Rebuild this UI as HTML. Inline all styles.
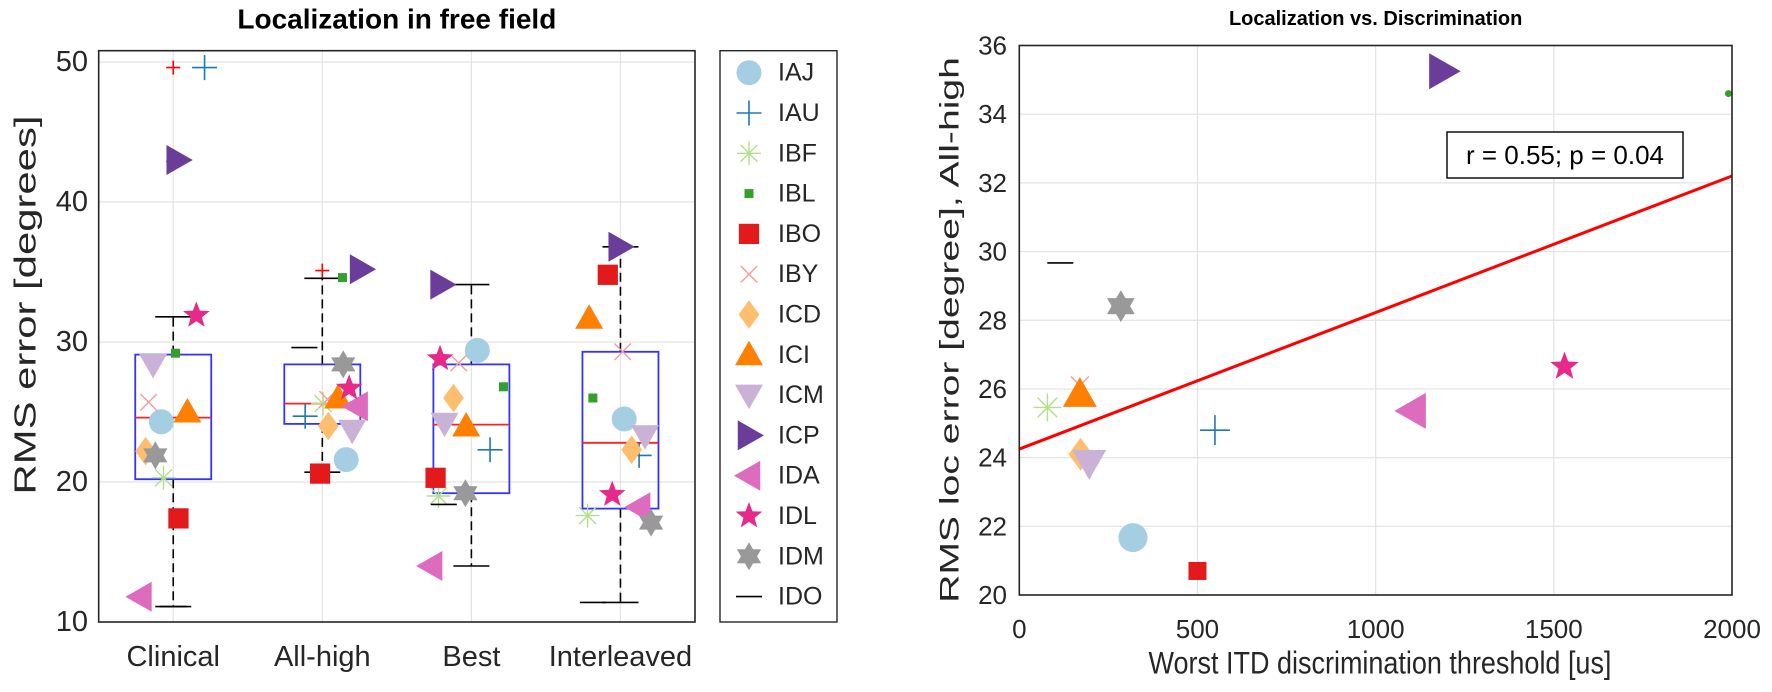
<!DOCTYPE html>
<html><head><meta charset="utf-8">
<style>
html,body{margin:0;padding:0;background:#fff;}
svg{display:block;font-family:"Liberation Sans",Arial,sans-serif;}
</style></head>
<body>
<svg id="fig" width="1772" height="692" viewBox="0 0 1772 692" xmlns="http://www.w3.org/2000/svg">
<rect width="1772" height="692" fill="#fff"/>
<g id="left"></g>
<g id="legend"></g>
<g id="right"></g>
</svg>
<script>
// ---------- data ----------
const subjects = ["IAJ","IAU","IBF","IBL","IBO","IBY","ICD","ICI","ICM","ICP","IDA","IDL","IDM","IDO"];
const shapes = ["circle","plus","asterisk","smallsquare","square","cross","diamond","triup","tridown","triright","trileft","star","hexagram","dash"];
const colors = ["#a6cee3","#1f78b4","#b2df8a","#33a02c","#e31a1c","#fb9a99","#fdbf6f","#ff7f00","#cab2d6","#6a3d9a","#dd6cbf","#e7298a","#999999","#000000"];
const conditions = ["Clinical","All-high","Best","Interleaved"];
const yTicksLeft = [10,20,30,40,50];
const clinicalVals = [24.3,49.6,20.3,29.2,17.4,25.7,22.2,25.0,28.4,43.0,11.8,31.9,21.9,11.1];
const allHighVals = [21.6,24.7,25.6,34.6,20.6,25.9,24.0,26.0,23.7,35.2,25.4,26.7,28.4,29.6];
const bestVals = [29.4,22.3,19.0,26.8,20.3,28.5,26.0,24.0,24.2,34.1,14.0,28.8,19.2,18.4];
const interleavedVals = [24.5,21.9,17.6,26.0,34.8,29.3,22.3,31.7,23.3,36.8,18.2,19.1,17.1,11.4];
const jitterClin = [-0.16,0.42,-0.13,0.03,0.07,-0.33,-0.37,0.19,-0.27,0.06,-0.44,0.31,-0.24,0];
const jitterAll = [0.32,-0.23,0.01,0.27,-0.03,0.07,0.08,0.21,0.4,0.52,0.46,0.36,0.28,-0.24];
const jitterBest = [0.08,0.25,-0.44,0.43,-0.48,-0.17,-0.24,-0.07,-0.36,-0.4,-0.54,-0.42,-0.08,-0.37];
const jitterInt = [0.05,0.25,-0.44,-0.37,-0.17,0.03,0.15,-0.42,0.33,-0.01,0.25,-0.11,0.41,-0.37];
const q1s = [20.2,24.15,19.2,18.1];
const medians = [24.6,25.6,24.1,22.8];
const q3s = [29.1,28.4,28.4,29.3];
const whiskLo = [11.1,20.7,14.0,11.4];
const whiskHi = [31.8,34.55,34.1,36.8];
const outlierCat = [0,0,1];
const outlierVals = [49.6,42.9,35.1];
const itdThresh = [319,549,79,1990,500,170,172,170,196,1188,1103,1530,285,115];
const locErrAllHigh = [21.67,24.8,25.46,34.6,20.7,26.1,24.1,25.85,23.85,35.25,25.36,26.65,28.41,29.67];
const xTicksRight = [0,500,1000,1500,2000];
const yTicksRight = [20,22,24,26,28,30,32,34,36];
const fitIntercept = 24.25;
const fitSlope = 0.003975;
const statText = "r = 0.55; p = 0.04";

// ---------- helpers ----------
const NS="http://www.w3.org/2000/svg";
function mk(tag,attrs,parent){const e=document.createElementNS(NS,tag);for(const k in attrs)e.setAttribute(k,attrs[k]);parent.appendChild(e);return e;}
function marker(shape,color,cx,cy,s,parent){
  const g=mk("g",{},parent);
  const h=s/2;
  if(shape==="circle") mk("circle",{cx,cy,r:h,fill:color},g);
  else if(shape==="plus"){mk("path",{d:`M${cx-h} ${cy}H${cx+h}M${cx} ${cy-h}V${cy+h}`,stroke:color,"stroke-width":1.6,fill:"none"},g);}
  else if(shape==="asterisk"){let d="";for(let i=0;i<4;i++){const a=i*Math.PI/4;d+=`M${cx-h*Math.cos(a)} ${cy-h*Math.sin(a)}L${cx+h*Math.cos(a)} ${cy+h*Math.sin(a)}`;}mk("path",{d,stroke:color,"stroke-width":1.4,fill:"none"},g);}
  else if(shape==="smallsquare") mk("rect",{x:cx-4.5,y:cy-4.5,width:9,height:9,fill:color},g);
  else if(shape==="square") mk("rect",{x:cx-h*0.75,y:cy-h*0.75,width:h*1.5,height:h*1.5,fill:color},g);
  else if(shape==="cross"){const k=h*0.75;mk("path",{d:`M${cx-k} ${cy-k}L${cx+k} ${cy+k}M${cx-k} ${cy+k}L${cx+k} ${cy-k}`,stroke:color,"stroke-width":1.4,fill:"none"},g);}
  else if(shape==="diamond") mk("path",{d:`M${cx} ${cy-h*1.1}L${cx+h*0.8} ${cy}L${cx} ${cy+h*1.1}L${cx-h*0.8} ${cy}Z`,fill:color},g);
  else if(shape==="triup") mk("path",{d:`M${cx} ${cy-h}L${cx+h} ${cy+h*0.75}L${cx-h} ${cy+h*0.75}Z`,fill:color},g);
  else if(shape==="tridown") mk("path",{d:`M${cx} ${cy+h}L${cx+h} ${cy-h*0.75}L${cx-h} ${cy-h*0.75}Z`,fill:color},g);
  else if(shape==="triright") mk("path",{d:`M${cx+h} ${cy}L${cx-h*0.75} ${cy-h}L${cx-h*0.75} ${cy+h}Z`,fill:color},g);
  else if(shape==="trileft") mk("path",{d:`M${cx-h} ${cy}L${cx+h*0.75} ${cy-h}L${cx+h*0.75} ${cy+h}Z`,fill:color},g);
  else if(shape==="star"||shape==="hexagram"){const n=shape==="star"?5:6;const ri=shape==="star"?h*0.42:h*0.58;let d="";for(let i=0;i<2*n;i++){const a=-Math.PI/2+i*Math.PI/n;const r=i%2?ri:h;d+=(i?"L":"M")+(cx+r*Math.cos(a))+" "+(cy+r*Math.sin(a));}mk("path",{d:d+"Z",fill:color},g);}
  else if(shape==="dash") mk("path",{d:`M${cx-h} ${cy}H${cx+h}`,stroke:color,"stroke-width":1.6},g);
  return g;
}
function txt(parent,x,y,s,size,anchor,extra){const t=mk("text",Object.assign({x,y,"font-size":size,"text-anchor":anchor||"middle","dominant-baseline":"central",fill:"#262626"},extra||{}),parent);t.textContent=s;return t;}

// ---------- left chart ----------
const L=document.getElementById("left");
const lx0=98.7,lx1=695,ly0=622,lyTop=50.7;
const xL=c=>lx0+(c+0.5)*(lx1-lx0)/4;
const yL=v=>622-(v-10)*14;
mk("rect",{x:lx0,y:lyTop,width:lx1-lx0,height:ly0-lyTop,fill:"#fff"},L);
yTicksLeft.forEach(v=>{const l=mk("line",{x1:lx0,x2:lx1,y1:yL(v),y2:yL(v),stroke:"#e3e3e3","stroke-width":1.2},L);

const t=txt(L,88,yL(v),String(v),29,"end");
});
conditions.forEach((c,i)=>{const l=mk("line",{x1:xL(i),x2:xL(i),y1:lyTop,y2:ly0,stroke:"#e3e3e3","stroke-width":1.2},L);

const t=txt(L,xL(i),657,c,29,"middle");
});
conditions.forEach((c,i)=>{const g=mk("g",{},L);


const x=xL(i),bw=38,cw=18;
mk("path",{d:`M${x} ${yL(q3s[i])}V${yL(whiskHi[i])}M${x} ${yL(q1s[i])}V${yL(whiskLo[i])}`,stroke:"#000","stroke-width":1.6,"stroke-dasharray":"9,5",fill:"none"},g);
mk("path",{d:`M${x-cw} ${yL(whiskHi[i])}H${x+cw}M${x-cw} ${yL(whiskLo[i])}H${x+cw}`,stroke:"#000","stroke-width":1.6},g);
mk("rect",{x:x-bw,y:yL(q3s[i]),width:2*bw,height:yL(q1s[i])-yL(q3s[i]),fill:"none",stroke:"#3333ff","stroke-width":1.8},g);
mk("line",{x1:x-bw,x2:x+bw,y1:yL(medians[i]),y2:yL(medians[i]),stroke:"#ff2020","stroke-width":1.8},g);});
outlierVals.forEach((v,k)=>{const m=marker("plus","#ff0000",xL(outlierCat[k]),yL(v),14,L);

});
const condVals=[clinicalVals,allHighVals,bestVals,interleavedVals];
const condJit=[jitterClin,jitterAll,jitterBest,jitterInt];
const lsizes={circle:25,plus:25,asterisk:24,smallsquare:9,square:27,cross:22,diamond:26,triup:28,tridown:28,triright:30,trileft:30,star:28,hexagram:28,dash:26};
condVals.forEach((vals,ci)=>{vals.forEach((v,si)=>{const cx=xL(ci)+condJit[ci][si]*74.6;
const m=marker(shapes[si],colors[si],cx,yL(v),lsizes[shapes[si]],L);

});});
mk("rect",{x:lx0,y:lyTop,width:lx1-lx0,height:ly0-lyTop,fill:"none",stroke:"#262626","stroke-width":1.6},L);
let t=txt(L,(lx0+lx1)/2,19,"Localization in free field",28,"middle",{"font-weight":"bold",fill:"#000"});

t=txt(L,0,0,"RMS error [degrees]",31,"middle",{transform:`translate(25,305) rotate(-90) scale(1.35,1)`});


// ---------- legend ----------
const G=document.getElementById("legend");
mk("rect",{x:720,y:50.7,width:117,height:571.3,fill:"#fff",stroke:"#262626","stroke-width":1.4},G);
subjects.forEach((s,i)=>{const y=72.7+i*40.3;
const e=mk("g",{},G);


marker(shapes[i],colors[i],749,y,lsizes[shapes[i]],e);
txt(e,778,y,s,25,"start");});

// ---------- right chart ----------
const R=document.getElementById("right");
const rx0=1019.3,rx1=1732,ry0=595,ry1=45.5;
const xR=v=>rx0+v*(rx1-rx0)/2000;
const yR=v=>ry0-(v-20)*(ry0-ry1)/16;
xTicksRight.forEach(v=>{const l=mk("line",{x1:xR(v),x2:xR(v),y1:ry1,y2:ry0,stroke:"#e3e3e3","stroke-width":1.2},R);

const t=txt(R,xR(v),629,String(v),26,"middle");
});
yTicksRight.forEach(v=>{const l=mk("line",{x1:rx0,x2:rx1,y1:yR(v),y2:yR(v),stroke:"#e3e3e3","stroke-width":1.2},R);

const t=txt(R,1007,yR(v),String(v),26,"end");
});
const rsizes={circle:29,plus:30,asterisk:28,smallsquare:7,square:24,cross:24,diamond:30,triup:34,tridown:34,triright:36,trileft:36,star:30,hexagram:32,dash:26};
itdThresh.forEach((x,i)=>{const sh=shapes[i]==="smallsquare"?"circle":shapes[i];
const m=marker(sh,colors[i],xR(x),yR(locErrAllHigh[i]),rsizes[shapes[i]],R);

});
const fit=mk("line",{x1:xR(0),y1:yR(fitIntercept),x2:xR(2000),y2:yR(fitIntercept+fitSlope*2000),stroke:"#ff0000","stroke-width":3},R);


mk("rect",{x:rx0,y:ry1,width:rx1-rx0,height:ry0-ry1,fill:"none",stroke:"#262626","stroke-width":1.6},R);
const sb=mk("g",{},R);


mk("rect",{x:1447,y:132,width:236,height:46,fill:"#fff",stroke:"#000","stroke-width":1.4},sb);
txt(sb,1565,155,statText,26,"middle",{fill:"#000"});
t=txt(R,(rx0+rx1)/2,19,"Localization vs. Discrimination",20,"middle",{"font-weight":"bold",fill:"#000"});

t=txt(R,0,0,"Worst ITD discrimination threshold [us]",27,"middle",{transform:`translate(1380,664) scale(1,1.15)`});

t=txt(R,0,0,"RMS loc error [degree], All-high",27,"middle",{transform:`translate(950,330) rotate(-90) scale(1.45,1)`});

</script>
</body></html>
